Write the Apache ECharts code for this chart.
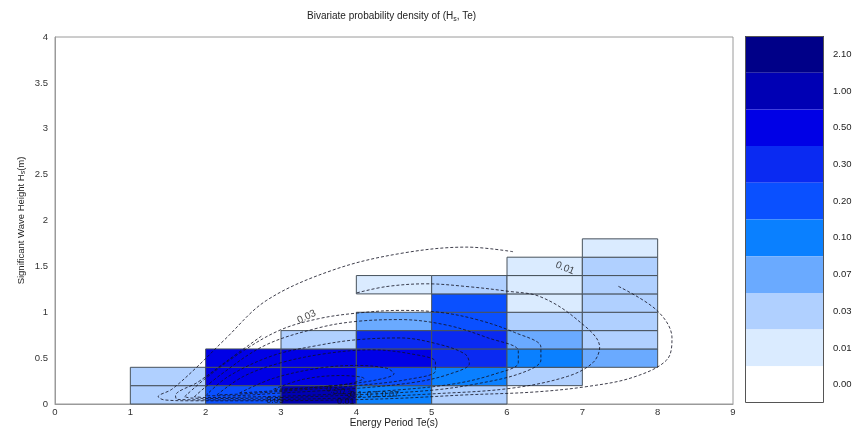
<!DOCTYPE html>
<html><head><meta charset="utf-8">
<script src="https://cdn.jsdelivr.net/npm/echarts@6/dist/echarts.min.js"></script>
<style>html,body{margin:0;padding:0;background:#fff}#c{width:868px;height:443px}</style>
</head><body><div id="c"></div>
<script>
// ---- data ----
const xTicks = [0,1,2,3,4,5,6,7,8,9];
const yTicks = [0,0.5,1,1.5,2,2.5,3,3.5,4];
const hsStep = 0.2;
const teLeft = [1,2,3,4,5,6,7];          // left edge of each Te column
const hsStart = [0,0,0,0,0,0.2,0.4];      // lowest Hs of each column
const col_1_2 = [0.04,0.04];
const col_2_3 = [0.25,0.6,0.6];
const col_3_4 = [1.5,0.7,0.6,0.04];
const col_4_5 = [0.15,0.25,0.6,0.35,0.08,null,0.015];
const col_5_6 = [0.04,0.15,0.35,0.32,0.25,0.25,0.04];
const col_6_7 = [0.04,0.15,0.08,0.04,0.015,0.015,0.015];
const col_7_8 = [0.08,0.04,0.04,0.04,0.04,0.05,0.015];
const columns = [col_1_2,col_2_3,col_3_4,col_4_5,col_5_6,col_6_7,col_7_8];

const levelLabels = ['0.00','0.01','0.03','0.07','0.10','0.20','0.30','0.50','1.00','2.10'];
const levelBounds = [0,0.01,0.03,0.07,0.10,0.20,0.30,0.50,1.00,2.10,100];
const levelColors = ['#ffffff','#daebff','#b0d0ff','#6aaaff','#0a80ff','#0a50ff','#0a2af2','#0000e6','#0000b4','#000088'];

// contour lines (Te, Hs)
const contour001 = [[6.08,1.66],[5.47,1.71],[4.58,1.64],[3.69,1.46],[2.81,1.13],[2.25,0.70],[1.88,0.40],[1.55,0.16],[1.37,0.08],[1.45,0.045],[1.8,0.035],[2.5,0.035],[3.5,0.04],[4.5,0.06],[5.47,0.10],[6.35,0.13],[7.06,0.19],[7.67,0.29],[8.12,0.48],[8.19,0.72],[7.99,1.02],[7.46,1.29]];
const contour003 = [[2.74,0.74],[2.3,0.48],[1.9,0.24],[1.6,0.09],[1.62,0.05],[2.0,0.045],[3.0,0.05],[4.0,0.07],[5.0,0.11],[6.04,0.17],[6.8,0.30],[7.14,0.45],[7.23,0.62],[6.93,0.92],[6.44,1.17],[6.0,1.23],[5.47,1.28],[4.93,1.31],[4.4,1.28],[4.0,1.21]];
const contour007 = [[1.72,0.08],[2.0,0.28],[2.5,0.58],[3.0,0.81],[3.5,0.93],[4.0,0.99],[4.58,1.02],[5.1,1.0],[5.6,0.92],[6.1,0.78],[6.45,0.62],[6.45,0.48],[6.2,0.34],[5.6,0.22],[5.0,0.15],[4.0,0.1],[3.0,0.07],[2.2,0.06],[1.8,0.065],[1.72,0.08]];
const contour010 = [[1.85,0.08],[2.2,0.32],[2.79,0.64],[3.5,0.83],[4.0,0.9],[4.58,0.92],[5.2,0.86],[5.75,0.72],[6.15,0.58],[6.15,0.45],[5.85,0.33],[5.3,0.22],[4.5,0.15],[3.5,0.1],[2.5,0.075],[2.0,0.07],[1.85,0.08]];
const contour020 = [[2.0,0.09],[2.3,0.3],[2.9,0.53],[3.5,0.64],[4.0,0.7],[4.58,0.72],[5.1,0.65],[5.45,0.54],[5.5,0.44],[5.25,0.33],[4.8,0.24],[4.0,0.17],[3.0,0.12],[2.3,0.09],[2.0,0.09]];
const contour030 = [[2.15,0.1],[2.5,0.3],[3.0,0.45],[3.6,0.55],[4.2,0.59],[4.7,0.55],[5.05,0.46],[5.05,0.36],[4.7,0.27],[4.0,0.2],[3.2,0.15],[2.5,0.11],[2.15,0.1]];
const contour050 = [[2.45,0.12],[2.9,0.28],[3.5,0.39],[4.0,0.42],[4.4,0.39],[4.5,0.33],[4.25,0.26],[3.7,0.2],[3.0,0.15],[2.45,0.12]];
const contour100 = [[2.9,0.16],[3.3,0.27],[3.8,0.31],[4.1,0.28],[3.9,0.22],[3.4,0.18],[2.9,0.16]];
const contours = [contour001,contour003,contour007,contour010,contour020,contour030,contour050,contour100];

// contour labels: text, Te, Hs, rotation
const labelText = ['0.03','0.01','0.05','0.5','0.3','0.1','0.1','0.07','0.01'];
const labelTe   = [3.34, 6.77, 2.92, 3.68, 3.86, 4.0, 4.22, 4.45, 3.86];
const labelHs   = [0.95, 1.48, 0.035, 0.15, 0.12, 0.10, 0.10, 0.10, 0.03];
const labelRot  = [25, -22, 0, -20, -20, 0, 0, 0, 0];

// ---- build ----
const cells = [];
columns.forEach((col, i) => {
  col.forEach((v, j) => {
    if (v == null) return;
    const h0 = +(hsStart[i] + j * hsStep).toFixed(2);
    cells.push([teLeft[i], h0, v, teLeft[i] + 1, +(h0 + hsStep).toFixed(2)]);
  });
});
const pieces = levelLabels.map((l, i) => ({gte: levelBounds[i], lt: levelBounds[i+1], label: l, color: levelColors[i]}));
const FONT = 'Liberation Sans';

const series = [{
  type: 'custom',
  data: cells,
  dimensions: ['te0','hs0','p','te1','hs1'],
  encode: {x: [0,3], y: [1,4]},
  renderItem: function (params, api) {
    const p0 = api.coord([api.value(0), api.value(1)]);
    const p1 = api.coord([api.value(3), api.value(4)]);
    return {type: 'rect', shape: {x: p0[0], y: p1[1], width: p1[0]-p0[0], height: p0[1]-p1[1]},
      style: {fill: api.visual('color'), stroke: '#48525c', lineWidth: 1}};
  },
  silent: true, z: 2
}];
contours.forEach(c => series.push({
  type: 'line', data: c, showSymbol: false, smooth: 0.35, silent: true, z: 3,
  lineStyle: {type: [3,2], width: 0.9, color: '#111122', opacity: 0.9}
}));
series.push({
  type: 'scatter', z: 4, silent: true, symbolSize: 1, itemStyle: {color: 'rgba(0,0,0,0)'},
  data: labelText.map((t, i) => ({value: [labelTe[i], labelHs[i]],
    label: {show: true, position: 'inside', formatter: t, rotate: labelRot[i], fontSize: i < 2 ? 10 : 9, color: '#111', fontFamily: FONT}}))
});

const chart = echarts.init(document.getElementById('c'));
chart.setOption({
  animation: false,
  backgroundColor: '#fff',
  textStyle: {fontFamily: FONT},
  title: {
    text: 'Bivariate probability density of (H{s|s}, Te)',
    left: 302, top: 5,
    textStyle: {fontSize: 10, fontWeight: 'normal', color: '#222', fontFamily: FONT,
      rich: {s: {fontSize: 7, verticalAlign: 'bottom', color: '#222', fontFamily: FONT, padding: [6,0,0,0]}}}
  },
  grid: {left: 55, top: 37, width: 678, height: 367, show: true, borderColor: '#9a9a9a', borderWidth: 1, backgroundColor: 'transparent'},
  xAxis: {
    type: 'value', min: 0, max: 9, interval: 1,
    name: 'Energy Period Te(s)', nameLocation: 'middle', nameGap: 14, nameMoveOverlap: false,
    nameTextStyle: {fontSize: 10, color: '#222', fontFamily: FONT},
    axisLine: {show: true, lineStyle: {color: '#9a9a9a'}}, axisTick: {show: false},
    axisLabel: {fontSize: 9.5, color: '#333', margin: 3, fontFamily: FONT,
      customValues: xTicks},
    splitLine: {show: false}
  },
  yAxis: {
    type: 'value', min: 0, max: 4, interval: 0.5,
    name: 'Significant Wave Height H{s|s}(m)', nameLocation: 'middle', nameGap: 28, nameRotate: 90, nameMoveOverlap: false,
    nameTextStyle: {fontSize: 9.5, color: '#222', fontFamily: FONT,
      rich: {s: {fontSize: 7, color: '#222', fontFamily: FONT, verticalAlign: 'bottom', padding: [5,0,0,0]}}},
    axisLine: {show: true, lineStyle: {color: '#9a9a9a'}}, axisTick: {show: false},
    axisLabel: {fontSize: 9.5, color: '#333', margin: 7, fontFamily: FONT,
      customValues: yTicks},
    splitLine: {show: false}
  },
  visualMap: {
    type: 'piecewise', dimension: 2, seriesIndex: 0, align: 'left',
    pieces: pieces, orient: 'vertical', left: 745, top: 36, padding: 0,
    itemWidth: 79, itemHeight: 36.7, itemGap: 0, itemSymbol: 'rect', textGap: 9,
    selectedMode: false, hoverLink: false,
    textStyle: {fontSize: 9.5, color: '#222', fontFamily: FONT}
  },
  graphic: [{type: 'rect', silent: true, z: 100,
    shape: {x: 745.5, y: 36.5, width: 78, height: 366}, style: {fill: 'none', stroke: '#555', lineWidth: 1}}],
  series: series
});
</script></body></html>
